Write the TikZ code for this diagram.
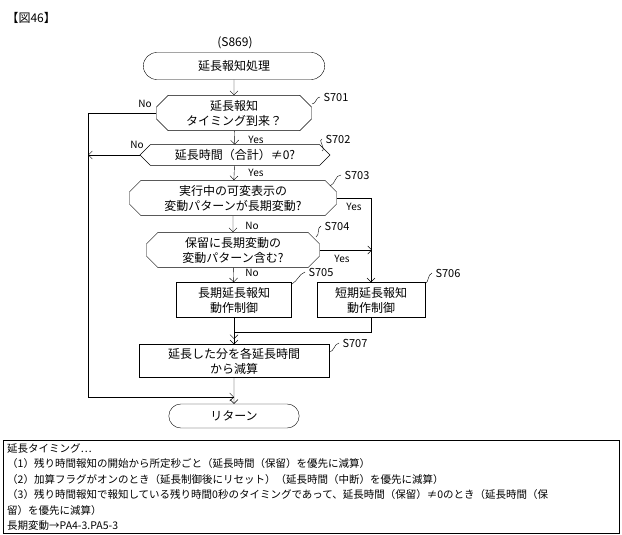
\documentclass[tikz,border=0pt]{standalone}
\usepackage{fontspec}
\setmainfont{Noto Sans CJK JP}
\usetikzlibrary{shapes.misc,arrows.meta}
\begin{document}
\begin{tikzpicture}
        [x=1pt,y=-1pt,
        every node/.style={font=\fontsize{12}{15}\selectfont},
        term/.style={draw,rounded rectangle,minimum width=188pt,minimum height=27pt},
        hexa/.style={draw,chamfered rectangle,chamfered rectangle xsep=8pt,inner sep=1pt},
        procbox/.style={draw,align=center,inner sep=1pt},
        steplabel/.style={font=\fontsize{11}{13}\selectfont},
        yn/.style={font=\fontsize{10}{12}\selectfont},
        arr/.style={-{Straight Barb[length=4pt]}}]
    \useasboundingbox (0,0) rectangle (622,535);
    \node[anchor=west] (title) at (3,18) {【図46】};
    \node (s869) at (235,43) {(S869)};
    \node[term] (start) at (234,66) {延長報知処理};
    \node[hexa,minimum width=155pt,minimum height=34pt,align=center] (s701) at (234,113) {延長報知\\タイミング到来？};
    \node[hexa,minimum width=190pt,minimum height=16pt] (s702) at (235,155) {延長時間（合計）≠0?};
    \node[hexa,minimum width=207pt,minimum height=34pt,align=center] (s703) at (233,198) {実行中の可変表示の\\変動パターンが長期変動?};
    \node[hexa,minimum width=173pt,minimum height=34pt,align=center] (s704) at (233,250) {保留に長期変動の\\変動パターン含む?};
    \node[procbox,minimum width=115pt,minimum height=35pt] (s705) at (234,300) {長期延長報知\\動作制御};
    \node[procbox,minimum width=108pt,minimum height=35pt] (s706) at (371,300) {短期延長報知\\動作制御};
    \node[procbox,minimum width=190pt,minimum height=33pt] (s707) at (234,361) {延長した分を各延長時間\\から減算};
    \node[term,minimum width=137pt,minimum height=24pt] (ret) at (234,416) {リターン};

    % step labels
    \node[steplabel] (l701) at (336,97) {S701};
    \node[steplabel] (l702) at (338,139) {S702};
    \node[steplabel] (l703) at (357,175) {S703};
    \node[steplabel] (l704) at (337,226) {S704};
    \node[steplabel] (l705) at (321,272) {S705};
    \node[steplabel] (l706) at (448,273) {S706};
    \node[steplabel] (l707) at (355,343) {S707};
    \draw (312,104) to[out=0,in=180] (l701.west);
    \draw (322,151) to[out=20,in=180] (l702.west);
    \draw (330,186) to[out=20,in=180] (l703.west);
    \draw (316,237) to[out=30,in=200] (l704.west);
    \draw (292,284) to[out=30,in=200] (l705.west);
    \draw (425,284) to[out=30,in=200] (l706.west);
    \draw (329,352) to[out=0,in=190] (l707.west);

    % flow
    \draw[arr] (start) -- (s701);
    \draw[arr] (s701) -- (s702);
    \draw[arr] (s702) -- (s703);
    \draw[arr] (s703) -- (s704);
    \draw[arr] (s704) -- (s705);
    \draw[arr] (s705) -- (s707);
    \draw[arr] (s707) -- (ret);
    \draw[arr] (s706.south) -- ++(0,14) -| (234,339);
    \draw[arr] (s703.east) -| (s706.north);
    \draw[arr] (s704.east) -- (372,250);
    \draw[arr] (s701.west) -- (88,113) |- (234,397);
    \draw[arr] (s702.west) -- (88,155);

    \node[yn] at (145,104) {No};
    \node[yn] at (137,145) {No};
    \node[yn] at (256,140) {Yes};
    \node[yn] at (256,173) {Yes};
    \node[yn] at (354,207) {Yes};
    \node[yn] at (252,226) {No};
    \node[yn] at (342,259) {Yes};
    \node[yn] at (252,273) {No};

    % note
    \node[draw,anchor=north west,minimum width=616pt,minimum height=92pt,text width=608pt,align=left,inner sep=3pt,font=\fontsize{10.5}{15.5}\selectfont] (note) at (3,440)
      {延長タイミング…\\（1）残り時間報知の開始から所定秒ごと（延長時間（保留）を優先に減算）\\（2）加算フラグがオンのとき（延長制御後にリセット）（延長時間（中断）を優先に減算）\\（3）残り時間報知で報知している残り時間0秒のタイミングであって、延長時間（保留）≠0のとき（延長時間（保\\留）を優先に減算）\\長期変動→PA4-3.PA5-3};
\end{tikzpicture}
\end{document}
